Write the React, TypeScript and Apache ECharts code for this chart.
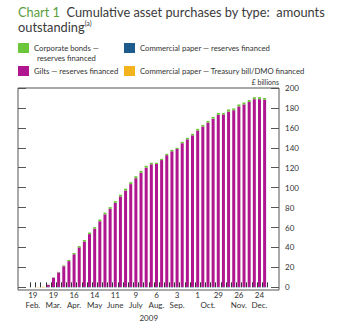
import React, { useEffect, useRef } from "react";
import * as echarts from "echarts";

const weeks = [
  "19 Feb", "26 Feb",
  "5 Mar", "12 Mar", "19 Mar", "26 Mar",
  "2 Apr", "9 Apr", "16 Apr", "23 Apr", "30 Apr",
  "7 May", "14 May", "21 May", "28 May",
  "4 Jun", "11 Jun", "18 Jun", "25 Jun",
  "2 Jul", "9 Jul", "16 Jul", "23 Jul", "30 Jul",
  "6 Aug", "13 Aug", "20 Aug", "27 Aug",
  "3 Sep", "10 Sep", "17 Sep", "24 Sep",
  "1 Oct", "8 Oct", "15 Oct", "22 Oct", "29 Oct",
  "5 Nov", "12 Nov", "19 Nov", "26 Nov",
  "3 Dec", "10 Dec", "17 Dec", "24 Dec", "31 Dec",
];

const cpReserves = [
  0, 0, 0, 0.3, 0.3, 0.4, 0.4, 0.4, 0.4, 0.4, 0.4, 0.4, 0.4, 0.4, 0.4, 0.4,
  0.4, 0.4, 0.4, 0.4, 0.4, 0.4, 0.4, 0.4, 0.4, 0.4, 0.4, 0.4, 0.4, 0.4, 0.4,
  0.4, 0.4, 0.4, 0.4, 0.4, 0.4, 0.4, 0.4, 0.4, 0.4, 0.4, 0.4, 0.4, 0.4, 0.4,
];
const cpDmo = [
  0, 0.3, 0.6, 0.2, 0, 0, 0, 0, 0, 0, 0, 0, 0, 0, 0, 0, 0, 0, 0, 0, 0, 0, 0,
  0, 0, 0, 0, 0, 0, 0, 0, 0, 0, 0, 0, 0, 0, 0, 0, 0, 0, 0, 0, 0, 0, 0,
];
const gilts = [
  0, 0, 0, 2.0, 9.4, 14.6, 20.8, 25.9, 32.8, 39.7, 45.6, 53.0, 58.5, 65.9,
  72.8, 78.3, 84.3, 90.8, 96.7, 103.2, 109.1, 114.6, 119.7, 123.1, 123.4,
  127.3, 132.2, 136.1, 138.4, 144.2, 148.1, 152.1, 157.0, 161.0, 164.9, 168.8,
  172.7, 173.1, 175.9, 177.3, 181.1, 183.2, 185.6, 188.4, 188.4, 187.8,
];
const corpBonds = [
  0, 0, 0, 0.2, 0.3, 0.5, 0.8, 1.2, 1.3, 1.4, 1.5, 1.6, 1.6, 1.7, 1.8, 1.8,
  1.8, 1.8, 1.9, 1.9, 2.0, 2.0, 1.9, 1.5, 1.2, 1.3, 1.4, 1.5, 1.2, 1.4, 1.5,
  1.5, 1.6, 1.6, 1.7, 1.8, 1.9, 1.5, 2.2, 1.8, 2.0, 1.9, 2.0, 2.0, 2.0, 1.8,
];

const labelWeeks = [
  "19 Feb", "19 Mar", "16 Apr", "14 May", "11 Jun", "9 Jul",
  "6 Aug", "3 Sep", "1 Oct", "29 Oct", "26 Nov", "24 Dec",
];
const labelDays = ["19", "19", "16", "14", "11", "9", "6", "3", "1", "29", "26", "24"];
const labelMonths = ["Feb.", "Mar.", "Apr.", "May", "June", "July", "Aug.", "Sep.", "", "", "Nov.", "Dec."];
const octSpan = ["1 Oct", "29 Oct"];

const FONT = "Lato";
const TXT = "#333333";
const AX = "#555555";

const C_CORP = "#6cc63a";
const C_CPRES = "#1d5b8c";
const C_GILTS = "#b0168f";
const C_CPDMO = "#f2b31c";

export default function App() {
  const ref = useRef<HTMLDivElement>(null);

  useEffect(() => {
    if (!ref.current) return;
    const chart = echarts.init(ref.current, undefined, { renderer: "svg" });

    const legendBase = {
      orient: "vertical",
      itemWidth: 11,
      itemHeight: 10,
      padding: 0,
      icon: "rect",
      selectedMode: false,
      textStyle: { fontFamily: FONT, fontSize: 7.7, color: TXT },
    };

    const barBase = {
      type: "bar",
      stack: "total",
      barWidth: 3,
      yAxisIndex: 1,
    };

    chart.setOption({
      animation: false,
      title: {
        left: 18,
        top: 4,
        padding: 0,
        text: "{g|Chart 1}  Cumulative asset purchases by type:  amounts\noutstanding{sup|(a)}",
        textStyle: {
          fontFamily: FONT,
          fontSize: 12.8,
          fontWeight: "normal",
          color: "#3a3a3a",
          lineHeight: 15,
          rich: {
            g: { fontFamily: FONT, fontSize: 12.8, color: "#5a9e3c", lineHeight: 15 },
            sup: { fontFamily: FONT, fontSize: 7, color: "#3a3a3a", verticalAlign: "top", lineHeight: 15, padding: [0, 0, 6, 0] },
          },
        },
      },
      legend: [
        {
          ...legendBase,
          left: 18,
          top: 43,
          data: ["Corporate bonds"],
          formatter: () => "Corporate bonds —",
        },
        { ...legendBase, left: 18, top: 66, data: ["Gilts — reserves financed"] },
        { ...legendBase, left: 124, top: 43, data: ["Commercial paper — reserves financed"] },
        { ...legendBase, left: 124, top: 66, data: ["Commercial paper — Treasury bill/DMO financed"] },
      ],
      grid: { left: 30.3, right: 78.8, top: 88, bottom: 37, containLabel: false },
      xAxis: {
        type: "category",
        data: weeks,
        axisLine: { show: false },
        axisTick: {
          show: true,
          inside: true,
          length: 5,
          interval: 0,
          lineStyle: { color: "#333", width: 1 },
        },
        axisLabel: {
          interval: (i: number, v: string) => labelWeeks.indexOf(v) >= 0,
          formatter: (v: string) => {
            const k = labelWeeks.indexOf(v);
            if (k < 0) return "";
            return labelMonths[k]
              ? "{d|" + labelDays[k] + "}\n{m|" + labelMonths[k] + "}"
              : "{d|" + labelDays[k] + "}";
          },
          rich: {
            d: { fontFamily: FONT, fontSize: 8, color: TXT, lineHeight: 10.5 },
            m: { fontFamily: FONT, fontSize: 8, color: TXT, lineHeight: 10.5 },
          },
          fontFamily: FONT,
          fontSize: 8,
          color: TXT,
          margin: 2,
        },
        name: "2009",
        nameLocation: "middle",
        nameGap: 23.5,
        nameTextStyle: { fontFamily: FONT, fontSize: 8, color: TXT },
      },
      yAxis: [
        {
          type: "value",
          position: "left",
          offset: 12.3,
          min: 0,
          max: 200,
          interval: 20,
          axisLine: { show: false },
          axisTick: { show: true, inside: true, length: 8, lineStyle: { color: AX } },
          axisLabel: { show: false },
          splitLine: { show: false },
        },
        {
          type: "value",
          position: "right",
          offset: 11.8,
          min: 0,
          max: 200,
          interval: 20,
          axisLine: { show: false },
          axisTick: { show: true, inside: true, length: 8, lineStyle: { color: AX } },
          axisLabel: { show: true, margin: 6, fontFamily: FONT, fontSize: 8, color: TXT },
          splitLine: { show: false },
          name: "£ billions",
          nameLocation: "end",
          nameGap: 6,
          nameTextStyle: { fontFamily: FONT, fontSize: 7, color: TXT, align: "right", verticalAlign: "middle" },
        },
      ],
      graphic: [
        {
          id: "frame",
          type: "rect",
          shape: { x: 18, y: 88, width: 261, height: 202 },
          style: { fill: "none", stroke: AX, lineWidth: 1 },
          silent: true,
          z: 10,
        },
        {
          id: "legend2",
          type: "text",
          x: 37,
          y: 58,
          style: {
            text: "reserves financed",
            fontFamily: FONT,
            fontSize: 7.7,
            fill: TXT,
            align: "left",
            verticalAlign: "middle",
          },
        },
      ],
      series: [
        { ...barBase, name: "Commercial paper — reserves financed", data: cpReserves, itemStyle: { color: C_CPRES } },
        { ...barBase, name: "Commercial paper — Treasury bill/DMO financed", data: cpDmo, itemStyle: { color: C_CPDMO } },
        { ...barBase, name: "Gilts — reserves financed", data: gilts, itemStyle: { color: C_GILTS } },
        { ...barBase, name: "Corporate bonds", data: corpBonds, itemStyle: { color: C_CORP } },
      ],
    });

    const p1 = chart.convertToPixel({ xAxisIndex: 0 }, octSpan[0]) as number;
    const p2 = chart.convertToPixel({ xAxisIndex: 0 }, octSpan[1]) as number;
    const gridBottom = chart.convertToPixel({ yAxisIndex: 1 }, 0) as number;
    chart.setOption({
      graphic: [
        {
          id: "oct",
          type: "text",
          x: (p1 + p2) / 2,
          y: gridBottom + 2 + 10.5 * 1.5,
          style: {
            text: "Oct.",
            fontFamily: FONT,
            fontSize: 8,
            fill: TXT,
            align: "center",
            verticalAlign: "middle",
          },
        },
      ],
    });

    return () => chart.dispose();
  }, []);

  return (
    <div
      ref={ref}
      style={{ position: "absolute", left: 0, top: 0, width: 346, height: 327, background: "#fff" }}
    />
  );
}
